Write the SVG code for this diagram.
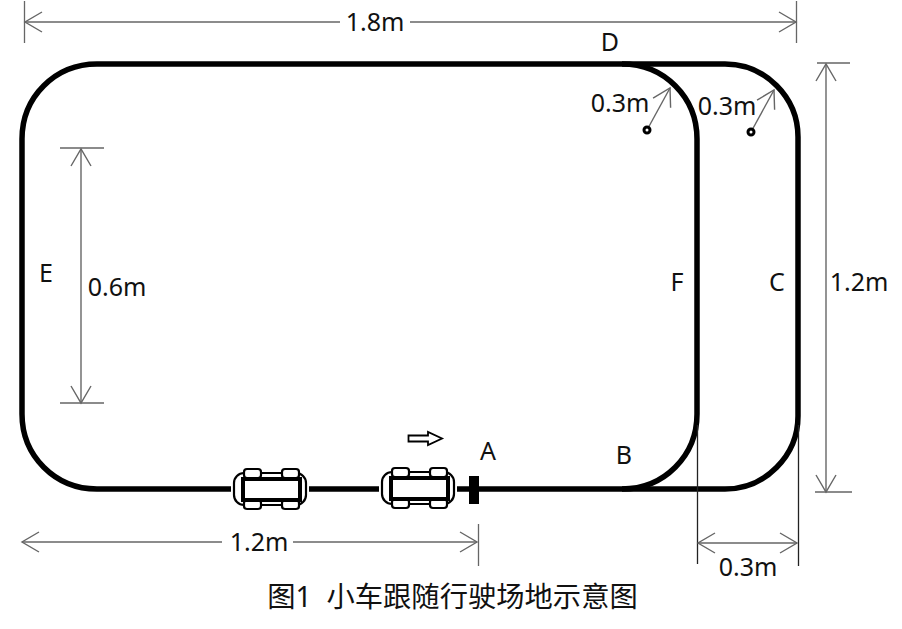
<svg xmlns="http://www.w3.org/2000/svg" width="902" height="629" viewBox="0 0 902 629">
<style>
text{font-family:"Noto Sans","Noto Sans CJK SC",sans-serif;font-size:25px;fill:#111;text-anchor:middle}
.track{fill:none;stroke:#000;stroke-width:5.500}
.dim{fill:none;stroke:#666;stroke-width:1.400}
.ext{fill:none;stroke:#666;stroke-width:1.300}
.ext2{fill:none;stroke:#222;stroke-width:1.300}
.car{fill:#fff;stroke:#000;stroke-width:2.200}
.in{fill:#fff;stroke:#000;stroke-width:4}
</style>
<defs>
<marker id="ah" markerUnits="userSpaceOnUse" markerWidth="22" markerHeight="24" refX="18" refY="12" orient="auto-start-reverse"><path d="M1 2 L18 12 L1 22" fill="none" stroke="#666" stroke-width="1.400"/></marker>
<g id="carshape">
<rect x="-39" y="-8" width="78" height="16" fill="#fff"/>
<rect class="car" x="-36" y="-16" width="72" height="32" rx="10"/>
<rect class="car" x="-26" y="-20" width="17" height="9" rx="3"/><rect class="car" x="12" y="-20" width="17" height="9" rx="3"/>
<rect class="car" x="-26" y="11" width="17" height="9" rx="3"/><rect class="car" x="12" y="11" width="17" height="9" rx="3"/>
<rect class="in" x="-27" y="-10" width="57" height="21"/>
</g>
</defs>
<g id="connectors">
<g id="track"><path class="track" d="M97 64H622C664 64 697 97 697 139V414C697 456 664 489 622 489H97C55 489 22 456 22 414V139C22 97 55 64 97 64Z"/>
<path class="track" d="M622 64H725C765 64 798 97 798 137V416C798 456 765 489 725 489H622"/></g>
<path class="ext" d="M24.500 1V43M796.500 1V43M478.500 524V566M817 63H850M815 492H852M60 148H104M60 403H104"/>
<path class="ext2" d="M697.500 425V564M798.500 425V566"/>
<path class="dim" marker-start="url(#ah)" d="M25 22H340"/><path class="dim" marker-end="url(#ah)" d="M410 22H796"/>
<path class="dim" marker-start="url(#ah)" d="M22 542H222"/><path class="dim" marker-end="url(#ah)" d="M293 542H477"/>
<path class="dim" marker-start="url(#ah)" marker-end="url(#ah)" d="M698 543H797"/>
<path class="dim" marker-start="url(#ah)" marker-end="url(#ah)" d="M826 64V492"/>
<path class="dim" marker-start="url(#ah)" marker-end="url(#ah)" d="M81 149V403"/>
<path class="dim" marker-end="url(#ah)" d="M647 130L670 88"/>
<path class="dim" marker-end="url(#ah)" d="M751 132L774 90"/>
</g>
<g id="node-dots"><circle cx="647" cy="130" r="3" fill="#fff" stroke="#000" stroke-width="3"/><circle cx="751" cy="132" r="3" fill="#fff" stroke="#000" stroke-width="3"/></g>
<g id="car-1"><use href="#carshape" x="270" y="489"/></g>
<g id="car-2"><use href="#carshape" x="418" y="488"/></g>
<g id="marker-a"><rect x="469" y="476" width="10" height="28" fill="#000"/></g>
<g id="direction"><path d="M408.500 435.500H428V432L442 438.500L428 445V441.500H408.500Z" fill="#fff" stroke="#000" stroke-width="1.800"/></g>
<g id="labels">
<text x="375" y="31">1.8m</text><text x="610" y="51">D</text>
<text x="620" y="112">0.3m</text><text x="727" y="115">0.3m</text>
<text x="46" y="282">E</text><text x="117" y="296">0.6m</text>
<text x="677" y="291">F</text><text x="777" y="291">C</text><text x="859" y="291">1.2m</text>
<text x="488" y="460">A</text><text x="624" y="464">B</text>
<text x="259" y="551">1.2m</text><text x="748" y="576">0.3m</text>
<text x="452.500" y="607" style="font-size:28.300px" xml:space="preserve">图1  小车跟随行驶场地示意图</text>
</g>
</svg>
